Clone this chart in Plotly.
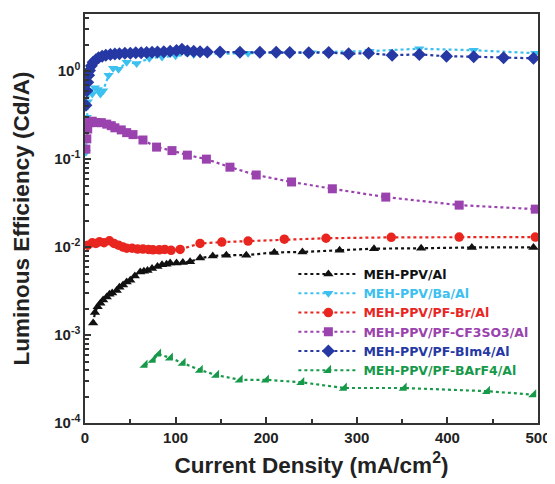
import plotly.graph_objects as go

# ---- data ----
x_al = [9,11,14,17,20,24,27,30,35,38,42,46,50,55,61,65,69,74,80,85,90,94,101,108,116,127,141,156,178,209,240,281,319,371,427,495]
y_al = [0.00137,0.0018,0.0021,0.0023,0.0025,0.0027,0.0029,0.003,0.0032,0.0035,0.0037,0.004,0.0042,0.0047,0.0052,0.0053,0.0054,0.0057,0.006,0.0063,0.0064,0.0066,0.0066,0.0067,0.0068,0.0075,0.0079,0.0081,0.0081,0.0087,0.0088,0.0092,0.0096,0.0097,0.0099,0.0099]

x_ba = [1,2,3,5,8,11,14,17,20,26,31,37,46,57,71,85,100,120,150,180,210,250,314,369,429,497]
y_ba = [0.12,0.3,0.45,0.6,0.55,0.65,0.62,0.55,0.6,0.9,1.08,1.05,1.26,1.22,1.40,1.45,1.5,1.55,1.58,1.6,1.6,1.62,1.69,1.8,1.73,1.6]

x_br = [3,8,12,16,21,27,32,37,42,46,52,58,64,70,75,82,88,95,105,127,151,180,220,266,338,413,497]
y_br = [0.0105,0.0112,0.011,0.0115,0.0112,0.0118,0.011,0.0105,0.01,0.0097,0.0097,0.0095,0.0095,0.0094,0.0093,0.0093,0.0094,0.0092,0.0094,0.011,0.0114,0.0117,0.0123,0.0126,0.0129,0.013,0.013]

x_cf = [1,2,3,5,8,13,18,24,29,33,40,46,53,64,79,96,113,134,160,189,228,273,332,413,497]
y_cf = [0.13,0.17,0.22,0.26,0.27,0.26,0.26,0.25,0.24,0.227,0.215,0.2,0.19,0.165,0.137,0.125,0.111,0.10,0.081,0.066,0.055,0.046,0.037,0.030,0.027]

x_bim = [1,2,3,4,5,7,9,12,15,19,23,28,33,38,44,50,56,62,68,74,80,87,94,101,107,113,120,127,135,149,171,193,211,226,247,269,291,313,339,369,399,429,462,495]
y_bim = [0.41,0.6,0.75,0.9,1.02,1.15,1.26,1.35,1.42,1.48,1.52,1.55,1.57,1.58,1.6,1.6,1.62,1.62,1.63,1.64,1.65,1.66,1.68,1.72,1.78,1.7,1.68,1.66,1.65,1.65,1.64,1.64,1.64,1.63,1.62,1.63,1.58,1.6,1.52,1.55,1.48,1.46,1.42,1.4]

x_barf = [66,75,81,94,108,127,145,171,200,239,286,352,444,495]
y_barf = [0.000457,0.00052,0.00061,0.00055,0.00048,0.00040,0.00035,0.00031,0.00031,0.00029,0.00025,0.00025,0.00023,0.00021]

series = [
    ("MEH-PPV/Al", x_al, y_al, "#111111", "triangle-up", 9),
    ("MEH-PPV/Ba/Al", x_ba, y_ba, "#3cc0ef", "triangle-down", 9),
    ("MEH-PPV/PF-Br/Al", x_br, y_br, "#e8261f", "circle", 9.5),
    ("MEH-PPV/PF-CF3SO3/Al", x_cf, y_cf, "#9a42ae", "square", 9),
    ("MEH-PPV/PF-BIm4/Al", x_bim, y_bim, "#2638a4", "diamond", 10),
    ("MEH-PPV/PF-BArF4/Al", x_barf, y_barf, "#17994a", "triangle-se", 9),
]

x_ticks = [0, 100, 200, 300, 400, 500]
y_tickvals = [1e-4, 1e-3, 1e-2, 1e-1, 1e0]
y_ticktext = ["10<sup>-4</sup>", "10<sup>-3</sup>", "10<sup>-2</sup>", "10<sup>-1</sup>", "10<sup>0</sup>"]
y_minor = [k * 10.0 ** e for e in range(-4, 1) for k in range(2, 10)]

fig = go.Figure()
for name, xs, ys, col, sym, sz in series:
    fig.add_trace(go.Scatter(
        x=xs, y=ys, mode="lines+markers",
        name=f"<span style='color:{col}'>{name}</span>",
        line=dict(color=col, width=2.2, dash="dot"),
        marker=dict(color=col, symbol=sym, size=sz, line=dict(width=0)),
    ))

font_family = "Liberation Sans, Arial, sans-serif"
# page body has an 8px default margin, so the figure is sized 8px smaller
fig.update_layout(
    width=547, height=476,
    margin=dict(l=77, r=17, t=6, b=61),
    paper_bgcolor="white", plot_bgcolor="white",
    font=dict(family=font_family, color="#222222", weight="bold"),
    showlegend=True,
    legend=dict(x=0.46, y=0.40, xanchor="left", yanchor="top",
                bgcolor="rgba(0,0,0,0)", borderwidth=0,
                font=dict(size=12.5, family="DejaVu Sans, sans-serif", weight="bold"),
                itemwidth=60, tracegroupgap=0),
    xaxis=dict(
        range=[0, 500], tickvals=x_ticks, ticks="inside", ticklen=6, tickwidth=1.5,
        tickcolor="#333", showline=True, linecolor="#333", linewidth=1.5, mirror=True,
        showgrid=False, zeroline=False, automargin=False,
        tickfont=dict(size=15, weight="bold"),
        minor=dict(ticks="inside", ticklen=4, dtick=50, tickcolor="#333", showgrid=False),
        title=dict(text="Current Density (mA/cm<sup>2</sup>)", font=dict(size=22.5, weight="bold"), standoff=12),
    ),
    yaxis=dict(
        type="log", range=[-4, 0.65], tickvals=y_tickvals, ticktext=y_ticktext,
        ticks="inside", ticklen=6, tickwidth=1.5, tickcolor="#333",
        showline=True, linecolor="#333", linewidth=1.5, mirror=True,
        showgrid=False, zeroline=False, automargin=False,
        tickfont=dict(size=15, weight="bold"),
        minor=dict(ticks="inside", ticklen=4, tickvals=y_minor, tickcolor="#333", showgrid=False),
        title=dict(text="Luminous Efficiency (Cd/A)", font=dict(size=22.5, weight="bold"), standoff=18),
    ),
)

fig.write_html("out.html")
